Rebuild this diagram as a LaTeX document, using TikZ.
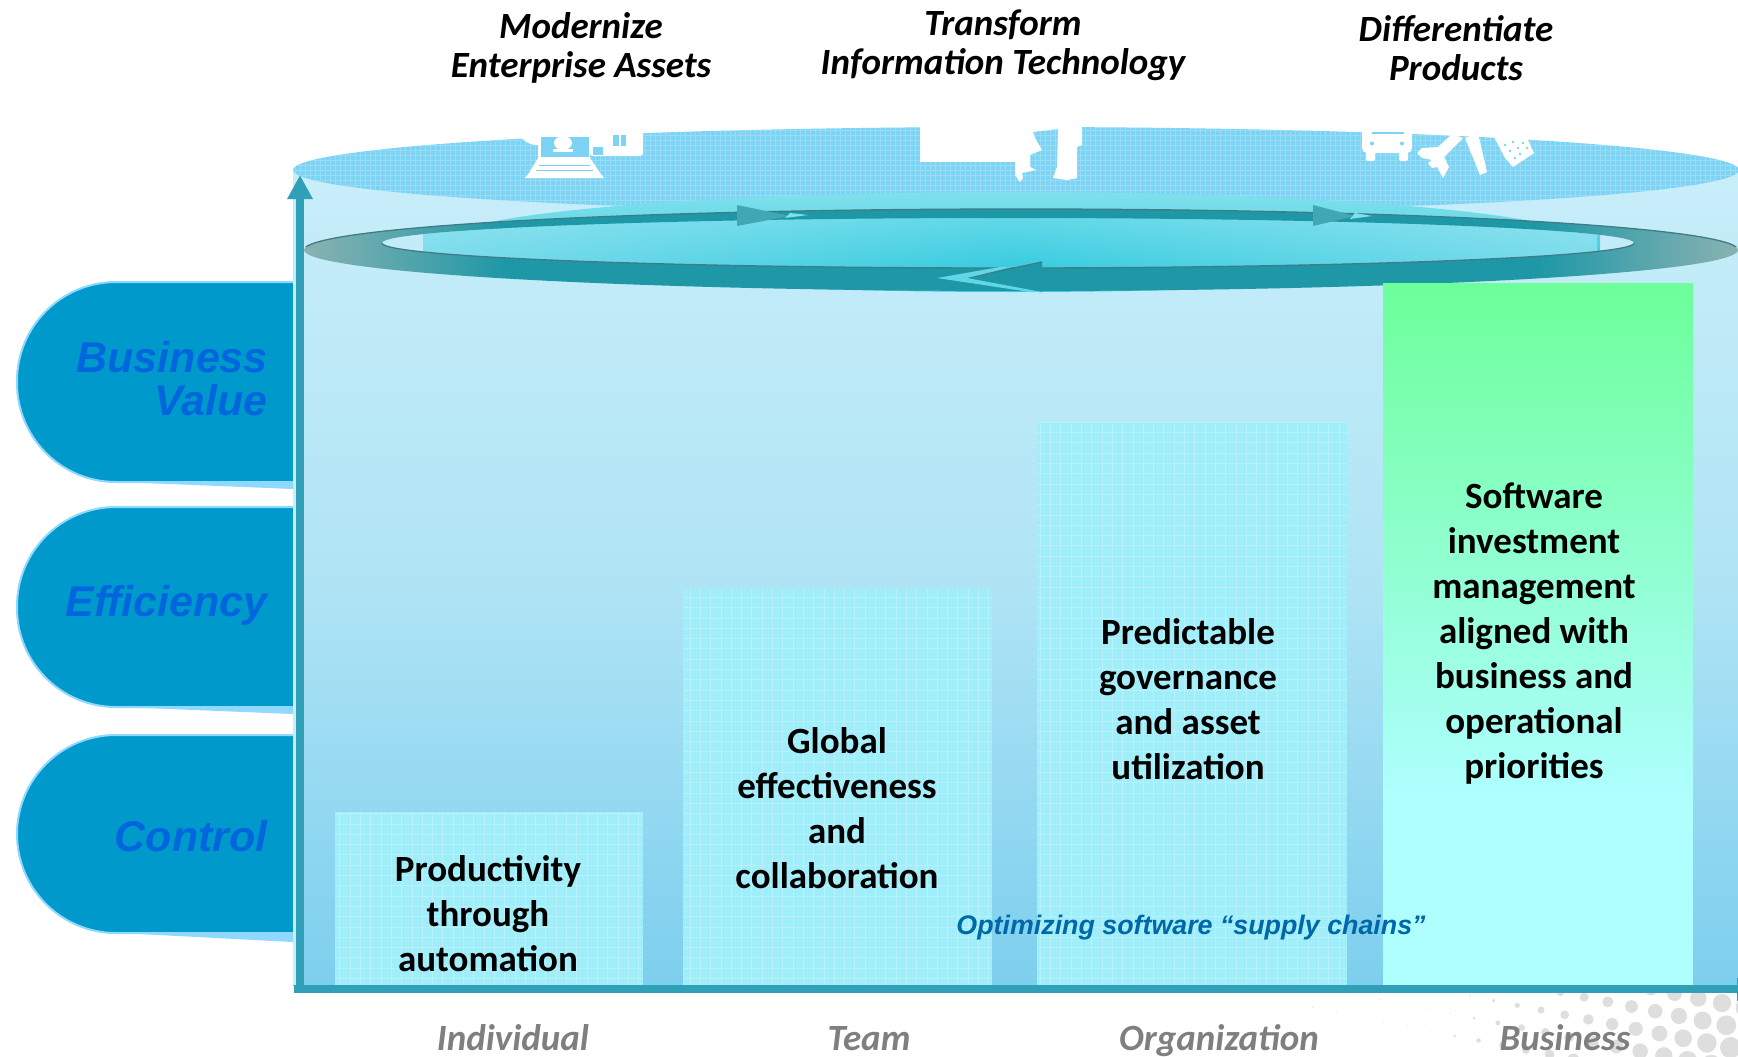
\documentclass[tikz,border=0pt]{standalone}
\usepackage{fontspec}
\usepackage{tikz}
\usetikzlibrary{arrows.meta,fadings}
\setmainfont{Carlito}
\newfontfamily\arialfont{Liberation Sans}

\definecolor{panelTop}{HTML}{C8EEF9}
\definecolor{panelMid}{HTML}{B0E4F5}
\definecolor{panelBot}{HTML}{7DCFEE}
\definecolor{discBlue}{HTML}{7DD3F3}
\definecolor{glowTop}{HTML}{80E0EC}
\definecolor{glowMid}{HTML}{62D9E8}
\definecolor{glowBot}{HTML}{38CCE0}
\definecolor{ringDark}{HTML}{1E98A6}
\definecolor{ringGray}{HTML}{8AB2B2}
\definecolor{ringLine}{HTML}{3F7C88}
\definecolor{axisTeal}{HTML}{309FB8}
\definecolor{pillBlue}{HTML}{0099CC}
\definecolor{pillEdge}{HTML}{8FD8FF}
\definecolor{pillText}{HTML}{0066DD}
\definecolor{barCyan}{HTML}{A0EEF9}
\definecolor{barGreen}{HTML}{6CFF9A}
\definecolor{barPale}{HTML}{AFFFFF}
\definecolor{axisGray}{HTML}{7F7F7F}
\definecolor{chainBlue}{HTML}{0068A8}

\pgfdeclarehorizontalshading{ringshade}{100bp}{color(0bp)=(ringGray); color(25bp)=(ringGray); color(32bp)=(ringDark); color(68bp)=(ringDark); color(75bp)=(ringGray); color(100bp)=(ringGray)}
\tikzfading[name=endsfade,left color=transparent!55,right color=transparent!55,middle color=transparent!100]

\begin{document}
\begin{tikzpicture}
          [x=1pt,y=-1pt,
           goal/.style={font=\fontsize{37}{39}\selectfont\bfseries\itshape,align=center,inner sep=0pt},
           level/.style={font=\fontsize{37}{39}\selectfont\bfseries\itshape,text=axisGray,inner sep=0pt,anchor=base},
           bartext/.style={font=\fontsize{37}{45}\selectfont\bfseries,align=center,inner sep=0pt},
           pilltext/.style={font=\arialfont\fontsize{43}{43}\selectfont\bfseries\itshape,text=pillText,align=right,inner sep=0pt,anchor=east},
           axis/.style={draw=axisTeal,line width=8pt},
           ringarrow/.style={fill=#1,draw=none}]

          \useasboundingbox (0,0) rectangle (1738,1057);

          % halftone dots in the corner
          \begin{scope}
            \clip (1300,993) rectangle (1738,1057);
            \foreach \i in {-18,...,2} {
              \foreach \j in {-2,...,4} {
                \pgfmathsetmacro{\dotx}{1722+23.7*\i+4.3*\j}
                \pgfmathsetmacro{\doty}{1003+4.7*\i+22.3*\j}
                \pgfmathsetmacro{\dotr}{max((\dotx-1440+0.8*(\doty-1000))/31,0.5)}
                \fill[black!13] (\dotx,\doty) circle[radius=\dotr pt];
              }
            }
          \end{scope}

          % panel and disc
          \shade[top color=panelTop,bottom color=panelBot,middle color=panelMid] (293,172) rectangle (1738,985);
          \begin{scope}
            \clip (1016,170) ellipse[x radius=723pt,y radius=43pt];
            \fill[discBlue] (293,120) rectangle (1738,220);
            \draw[white,opacity=0.22,line width=0.6pt,step=5pt] (293,120) grid (1738,220);
          \end{scope}

          % icons on the disc
          \fill[white] (920,100) rectangle (1015,162);
          \fill[white] (1015,100) -- (1015,175) -- (1020,182) -- (1023,178) -- (1022,173) -- (1036,170) -- (1030,167) -- (1030,155) -- (1042,150) -- (1035,138) -- (1033,132) -- (1058,129) -- (1057,167) -- (1053,178) -- (1067,180) -- (1077,178) -- (1077,147) -- (1082,145) -- (1082,100) -- cycle;
          \fill[white] (537,125) circle[radius=20pt];
          \fill[white,rounded corners=3pt] (590,115) rectangle (643,156);
          \fill[discBlue] (593,147) rectangle (603,155);
          \fill[discBlue] (613,135) rectangle (626,146);
          \fill[white] (619,134) rectangle (621,147);
          \fill[white] (538,132) rectangle (590,160);
          \fill[discBlue] (541,137) rectangle (589,157);
          \fill[white] (563,143) circle[x radius=9pt,y radius=7pt];
          \fill[white] (553,149) rectangle (573,152);
          \fill[white] (538,158) -- (590,158) -- (600,173) -- (604,178) -- (525,178) -- (529,173) -- cycle;
          \draw[discBlue,line width=1pt] (539,165) -- (590,165) (536,170) -- (593,170);

          \fill[white,rounded corners=5pt] (1362,125) rectangle (1412,153);
          \fill[white,rounded corners=2pt] (1366,145) rectangle (1375,161);
          \fill[white,rounded corners=2pt] (1399,145) rectangle (1408,161);
          \fill[discBlue] (1372,131.5) rectangle (1404,134);
          \fill[discBlue] (1372,143.5) circle[radius=2pt];
          \fill[discBlue] (1402,143.5) circle[radius=2pt];
          \fill[white] (1417,153) -- (1422,148) -- (1438,147) -- (1452,134) -- (1463,138) -- (1444,157) -- (1449,167) -- (1443,178) -- (1437,167) -- (1432,168) -- (1428,163) -- (1432,160) -- (1422,158) -- cycle;
          \fill[white] (1465,138) -- (1480,175) -- (1487,172) -- (1478,133) -- cycle;
          \fill[white] (1494,137) -- (1527,138) -- (1534,153) -- (1513,167) -- (1505,158) -- cycle;
          \foreach \dx/\dy in {1505/145,1513/142,1523/143,1510/151,1518/148,1527/148,1515/158,1520/154} {
            \fill[discBlue] (\dx,\dy) circle[radius=1.3pt];
          }

          % glow and ring
          \shade[top color=glowTop,bottom color=glowBot] (1013,242) ellipse[x radius=570pt,y radius=50pt];
          \begin{scope}
            \clip (1008,243) ellipse[x radius=626pt,y radius=25pt];
            \shade[top color=glowMid,bottom color=glowBot] (423,216) rectangle (1600,268);
            \fill[panelTop,path fading=endsfade] (423,216) rectangle (1600,268);
          \end{scope}
          \path[even odd rule,shading=ringshade] (1021,250) ellipse[x radius=717pt,y radius=41pt] (1008,243) ellipse[x radius=626pt,y radius=25pt];
          \begin{scope}
            \clip (293,190) rectangle (1738,246);
            \draw[ringLine,line width=1.3pt] (1021,250) ellipse[x radius=717pt,y radius=41pt];
          \end{scope}
          \begin{scope}
            \clip (293,243) rectangle (1738,280);
            \draw[ringLine,line width=1.3pt] (1008,243) ellipse[x radius=626pt,y radius=25pt];
          \end{scope}

          % arrow heads on the ring
          \fill[ringarrow=ringDark!85!white] (737,205) -- (790,216) -- (737,226) -- cycle;
          \fill[glowTop] (785,218) -- (808,215) -- (790,213) -- cycle;
          \fill[ringarrow=ringDark!85!white] (1313,205) -- (1355,216) -- (1313,226) -- cycle;
          \fill[glowTop] (1350,219) -- (1372,216) -- (1355,213) -- cycle;
          \fill[ringarrow=ringDark] (1042,262) -- (967,278) -- (1042,292) -- cycle;
          \draw[ringLine,line width=1.3pt] (1042,262) -- (967,278);
          \fill[glowBot!80!white] (1000,267) -- (937,278) -- (1030,292) -- (1042,292) -- (967,278) -- (1012,267) -- cycle;

          % bars
          \foreach \xa/\ya/\xb in {335/812/643,683/589/992,1037/422/1347} {
            \fill[barCyan] (\xa,\ya) rectangle (\xb,985);
            \begin{scope}
              \clip (\xa,\ya) rectangle (\xb,985);
              \draw[white,opacity=0.25,line width=0.9pt,step=10.3pt] (\xa-11,\ya-11) grid (\xb,985);
            \end{scope}
          }
          \shade[top color=barGreen,bottom color=barPale] (1383,283) rectangle (1693,800);
          \fill[barPale] (1383,800) rectangle (1693,985);

          % pills
          \foreach \ya/\yb/\yc in {282/482/489,507/707/714,735/933/942} {
            \fill[pillEdge] (120,\yb) -- (293,\yc) -- (293,\yb) -- cycle;
            \draw[fill=pillBlue,draw=pillEdge,line width=2pt,rounded corners=99pt] (293,\ya) -- (17,\ya) -- (17,\yb) -- (293,\yb);
          }
          \fill[panelTop] (293,282) rectangle (296,985);

          \node[pilltext] (bizvalue) at (268,379) {Business\\Value};
          \node[pilltext] (efficiency) at (268,605) {Efficiency};
          \node[pilltext] (control) at (268,836) {Control};

          % axes
          \coordinate (origin) at (300,993);
          \coordinate (ytip) at (300,175);
          \coordinate (xleft) at (294,989);
          \coordinate (xright) at (1738,989);
          \draw[axis,-{Triangle[length=24pt,width=24pt]}] (origin) -- (ytip);
          \draw[axis] (xleft) -- (xright);
          \draw[axisTeal,line width=1pt] (1737.5,978) -- (1737.5,1001);

          % texts
          \node[goal] (assets) at (581,47.5) {Modernize\\Enterprise Assets};
          \node[goal] (infotech) at (1003,45) {Transform\\Information Technology};
          \node[goal] (products) at (1456,48.5) {Differentiate\\Products};

          \node[bartext] (prod) at (488,914) {Productivity\\through\\automation};
          \node[bartext] (global) at (837,808.5) {Global\\effectiveness\\and\\collaboration};
          \node[bartext] (govern) at (1188,699.5) {Predictable\\governance\\and asset\\utilization};
          \node[bartext] (invest) at (1534,634) {Software\\investment\\management\\aligned with\\business and\\operational\\priorities};

          \node[inner sep=0pt,text=chainBlue,font=\arialfont\fontsize{26.8}{30}\selectfont\bfseries\itshape] (chains) at (1191,928) {Optimizing software “supply chains”};

          \node[level] (individual) at (513,1050) {Individual};
          \node[level] (team) at (869,1050) {Team};
          \node[level] (organization) at (1219,1050) {Organization};
          \node[level] (business) at (1565,1050) {Business};
        \end{tikzpicture}
\end{document}
